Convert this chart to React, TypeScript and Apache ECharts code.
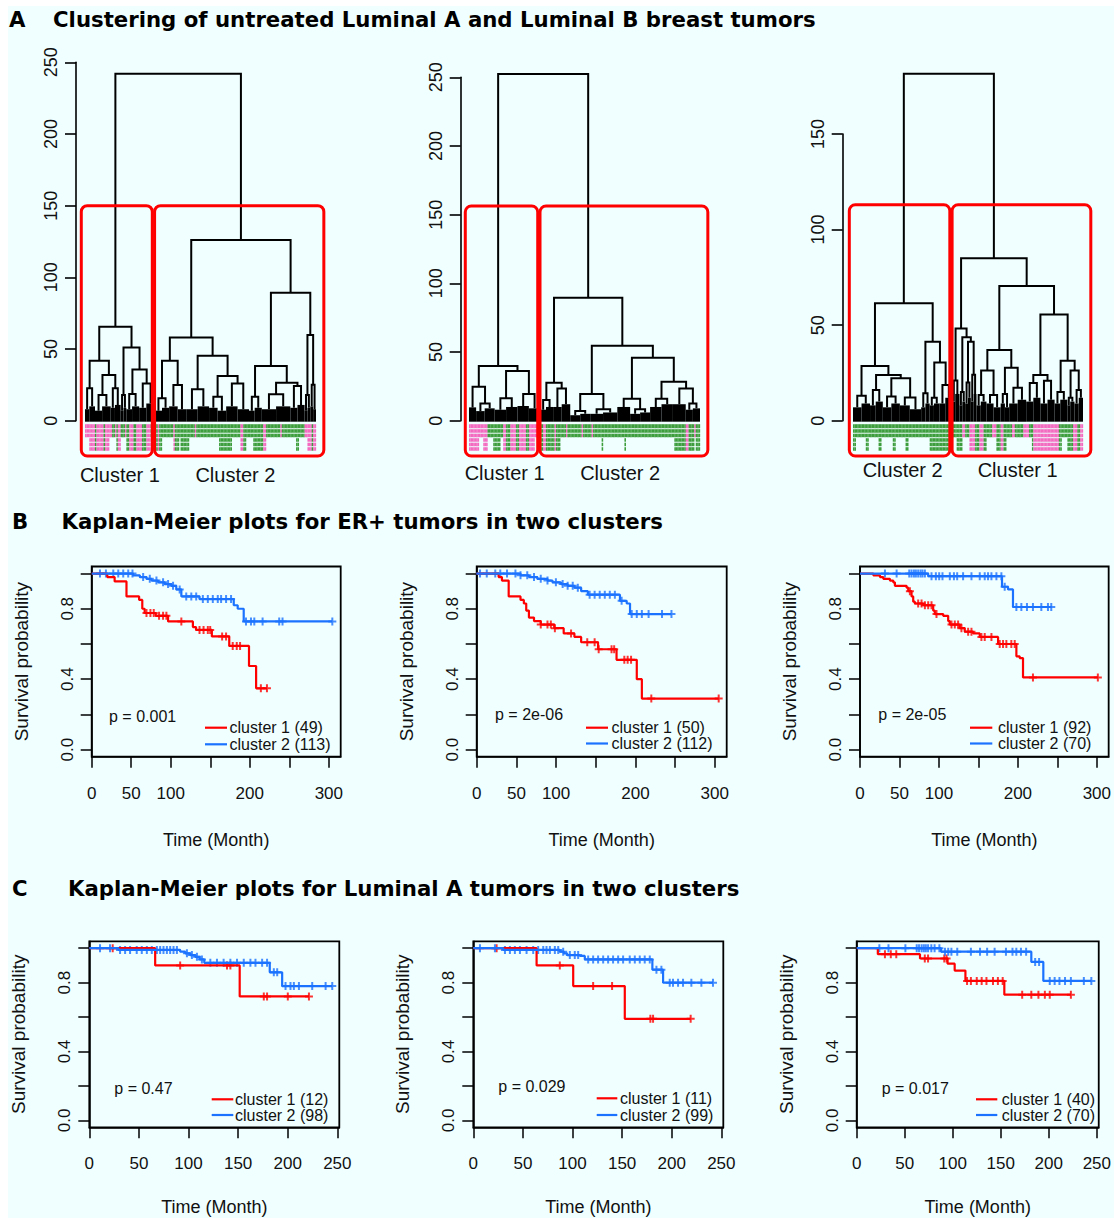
import React, { useEffect, useRef } from "react";
import * as echarts from "echarts";

// ---------------- Dendrogram data ----------------
// internal node = [mergeHeight, left, right]; terminal clump = [leafCount, height]
const treeA1: any[] = [242,
  [65.6,
    [41.9,
      [22.6, [3, 8], [4, 10]],
      [31.9, [18, [5, 7], [6, 10]], [22.6, [3, 9], [4, 11]]]],
    [51,
      [18, [2, 7], [2, 9]],
      [35.8, [18.6, [4, 8], [5, 10]], [26, [5, 9], [6, 12]]]]],
  [126,
    [58,
      [41.9, [15.6, [5, 7], [5, 9]], [24.9, [6, 10], [6, 8]]],
      [45.3,
        [21.9, [8, 8], [8, 10]],
        [31.2, [16.7, [6, 9], [6, 7]], [26, [8, 10], [8, 8]]]]],
    [89.3,
      [38.1,
        [16.7, [4, 7], [5, 9]],
        [26.5, [18.4, [10, 8], [10, 10]], [24.2, [5, 9], [5, 11]]]],
      [59.8, [18, [2, 7], [2, 9]], [25, [2, 10], [2, 8]]]]]];

const treeA2: any[] = [252.4,
  [39.8,
    [24.8, [5, 9.7], [12.6, [6, 7], [7, 9]]],
    [36.2, [16.3, [8, 8], [8, 10]], [19.4, [8, 10.7], [8, 9]]]],
  [89.6,
    [27.7, [15, [4, 8], [5, 10]], [23.5, [6, 10], [6, 12]]],
    [54.6,
      [19.4, [7, [7, 4], [7, 5]], [8.3, [9, 5], [10, 6]]],
      [45.9,
        [16, [9, 10], [8.3, [7, 5], [7, 6]]],
        [28.4, [16, [8, 10], [8, 12]], [23.5, [9, 12], [12.6, [5, 8], [5, 9]]]]]]]];

const treeA3: any[] = [181.5,
  [61.4,
    [28.6,
      [13.1, [6, 7], [6, 9]],
      [23.9, [16, [4, 8], [5, 10]], [22.2, [12.6, [6, 7], [6, 9]], [12.2, [7, 8], [8, 6]]]]],
    [41.3,
      [14.3, [3, 7], [3, 9]],
      [30.4, [12, [3, 8], [4, 9]], [18.7, [4, 9], [5, 12]]]]],
  [85,
    [48.3,
      [21, [2, 10], [3, 14]],
      [43.6, [15, [2, 8], [2, 10]], [41.3, [20, [2, 9], [2, 12]], [24, [2, 10], [2, 14]]]]],
    [70.5,
      [37,
        [26.2, [13.4, [3, 8], [4, 10]], [13.4, [5, 9], [5, 7]]],
        [27.7, [14, [3, 9], [3, 7]], [17.3, [6, 9], [6, 11]]]],
      [55.6,
        [23.9, [19.7, [5, 10], [5, 12]], [20.9, [5, 9], [5, 11]]],
        [31.4, [15, [4, 9], [5, 11]], [26.2, [12, [2, 8], [3, 10]], [16, [3, 9], [3, 12]]]]]]]];

// sample label colour strip, run-length: P/p = pink, G/g = green; upper case = long label
const stripA1 = ["p3", "P4", "G1", "P5", "G1", "P3", "p2", "g2", "p1", "G1", "P2", "g3", "p1", "G2", "P3", "G2", "P4", "G3", "P3", "g1", "p2",
  "G2", "P1", "G2", "g8", "P1", "G3", "g1", "G6", "g4", "p1", "g16", "G9", "g6", "P2", "G2", "g5", "G7", "P2", "g10", "p1", "g10", "G2", "g4", "p2", "P3", "G1", "P2"];
const stripA2 = ["P7", "p3", "P3", "g4", "G5", "g2", "P2", "G3", "P4", "G2", "P5", "G2", "P4", "p4",
  "G2", "P2", "G6", "P1", "G3", "g4", "p1", "g10", "p1", "g6", "p1", "g6", "G1", "g15", "G1", "g23", "g11", "G8", "P2", "G4", "p1", "G3"];
const stripA3 = ["G2", "g7", "G2", "g7", "G2", "g8", "G2", "g7", "G2", "g15", "G16",
  "g3", "G4", "p2", "g3", "P4", "G3", "P3", "G2", "g4", "p3", "G3", "P2", "G2", "g4", "p2", "g3", "g3", "p4", "g2", "G1", "P6", "P8", "P4", "G2", "g4", "G4", "P3", "G2", "P2"];

const clusterSizesA1 = [49, 113];
const clusterSizesA2 = [50, 112];
const clusterSizesA3 = [70, 92];
const clusterLabelsA1 = ["Cluster 1", "Cluster 2"];
const clusterLabelsA2 = ["Cluster 1", "Cluster 2"];
const clusterLabelsA3 = ["Cluster 2", "Cluster 1"];
const cutA1 = 150;
const cutA2 = 156.3;
const cutA3 = 113;

// ---------------- Kaplan-Meier data ----------------
// events: [time, survival after event]; censor: times; end: last follow-up
const b1C1Events = [[19.7, 0.98], [29, 0.955], [44, 0.87], [60, 0.85], [64, 0.8], [67, 0.776], [81, 0.76], [96.6, 0.728], [128, 0.696], [132, 0.68], [152, 0.643], [174, 0.589], [199, 0.475], [208, 0.348]];
const b1C1Censor = [69.3, 74.3, 78.5, 85.2, 90.3, 94.5, 113.4, 136.4, 141.5, 146.9, 149.9, 165, 170, 178.4, 183.5, 187.7, 214, 221.7];
const b1C1End = 221.7;
const b1C2Events = [[52.5, 0.99], [60.9, 0.98], [69.3, 0.97], [75.6, 0.96], [84, 0.95], [92.4, 0.94], [100.8, 0.93], [107, 0.91], [113.4, 0.87], [136.4, 0.855], [179.7, 0.82], [184.7, 0.8], [192.3, 0.728]];
const b1C2Censor = [10.5, 18, 27.3, 33.6, 39.9, 46.2, 51.6, 65.1, 73.5, 81.9, 90.3, 96.6, 102.9, 111.3, 119.6, 126, 132.2, 140.6, 146.9, 153.2, 159.5, 163.7, 170, 176.3, 195.2, 201.5, 205.7, 216.2, 237.2, 241.4, 304.4];
const b1C2End = 304.4;

const b2C1Events = [[27.6, 0.98], [31.8, 0.96], [40.3, 0.87], [55.2, 0.85], [59.4, 0.83], [62.4, 0.79], [65.8, 0.75], [72.2, 0.73], [80.7, 0.71], [97.7, 0.69], [109.6, 0.66], [123.1, 0.64], [131.6, 0.61], [152.9, 0.57], [176.2, 0.51], [201.7, 0.4], [208.1, 0.29]];
const b2C1Censor = [80.7, 89.2, 93.4, 98.5, 118.9, 139.3, 148.6, 153.7, 169.9, 173.2, 186, 190.2, 194.5, 220, 304.9];
const b2C1End = 304.9;
const b2C2Events = [[55.2, 0.99], [65.8, 0.98], [76.4, 0.97], [89.2, 0.96], [95.5, 0.95], [106.2, 0.94], [114.6, 0.93], [123.1, 0.92], [131.6, 0.9], [140.1, 0.88], [180.5, 0.845], [189, 0.83], [193.2, 0.77]];
const b2C2Censor = [4.2, 12.7, 23.4, 29.7, 38.2, 48.8, 55.2, 63.7, 72.2, 80.7, 89.2, 99.8, 108.3, 114.6, 121, 127.4, 142.3, 148.6, 155, 161.4, 167.7, 174.1, 182.6, 195.3, 201.7, 208.1, 216.6, 233.5, 245.4];
const b2C2End = 245.4;

const b3C1Events = [[16.9, 0.99], [25.3, 0.98], [29.5, 0.97], [37.9, 0.96], [42.1, 0.95], [44.2, 0.93], [59, 0.92], [61.1, 0.9], [65.3, 0.87], [67.4, 0.84], [69.5, 0.83], [80.1, 0.82], [92.7, 0.79], [94.8, 0.77], [105.4, 0.76], [111.7, 0.73], [113.8, 0.71], [126.4, 0.69], [132.7, 0.67], [143.3, 0.66], [151.7, 0.64], [174.9, 0.6], [198.1, 0.53], [202.3, 0.52], [206.5, 0.41]];
const b3C1Censor = [63.2, 73.7, 78, 82.2, 86.4, 90.6, 96.9, 115.9, 120.1, 124.3, 128.5, 137, 141.2, 153.8, 158, 166.5, 177, 181.2, 185.4, 191.7, 196, 219.1, 301.3];
const b3C1End = 301.3;
const b3C2Events = [[86.4, 0.985], [179.9, 0.925], [187.5, 0.91], [193.8, 0.81]];
const b3C2Censor = [31.6, 46.4, 62.4, 65.3, 68.3, 70.8, 73.7, 76.7, 79.2, 82.2, 90.6, 96.1, 100.3, 104.5, 113.8, 119, 123.1, 130.6, 141.2, 151.7, 158, 162.2, 166.5, 172.8, 179.1, 183.3, 198.1, 204.4, 211.5, 219.1, 229.7, 238.1, 242.3];
const b3C2End = 242.3;

const c1C1Events = [[66.4, 0.9], [151.6, 0.72]];
const c1C1Censor = [23.6, 91.6, 138.8, 142.2, 175.9, 179.2, 200.1, 221.4];
const c1C1End = 221.4;
const c1C2Events = [[29.3, 0.99], [91.6, 0.98], [96.7, 0.97], [101.8, 0.96], [106.8, 0.95], [111.2, 0.935], [115.9, 0.915], [181.9, 0.86], [194.4, 0.78]];
const c1C2Censor = [10.8, 20.9, 31, 36.1, 41.1, 47.8, 52.9, 58, 63, 68.1, 71.4, 74.8, 78.2, 81.5, 84.9, 88.3, 98.4, 103.4, 108.5, 113.5, 122, 128.7, 135.4, 142.2, 148.9, 155.7, 162.4, 167.5, 174.2, 179.2, 186, 189.4, 197.8, 202.8, 206.2, 211.3, 224.7, 238.2, 244.9];
const c1C2End = 244.9;

const c2C1Events = [[63.8, 0.9], [100.7, 0.78], [152.7, 0.59]];
const c2C1Censor = [23.5, 87.2, 120.8, 139.9, 178.5, 181.2, 219.1];
const c2C1End = 219.1;
const c2C2Events = [[30.2, 0.99], [87.2, 0.98], [91.3, 0.97], [94.6, 0.96], [107.4, 0.955], [112.4, 0.935], [180.5, 0.875], [191.3, 0.8]];
const c2C2Censor = [6.7, 21.8, 31.9, 36.9, 41.9, 47, 53.7, 60.4, 65.4, 70.5, 73.8, 77.2, 82.2, 85.6, 90.6, 97.3, 102.3, 105.7, 115.8, 120.8, 125.8, 130.9, 135.9, 140.9, 146, 151, 157.7, 162.8, 167.8, 172.8, 177.9, 184.6, 189.6, 198, 201.3, 206.4, 211.4, 219.8, 229.9, 241.6];
const c2C2End = 241.6;

const c3C1Events = [[22, 0.965], [65.9, 0.94], [94.6, 0.91], [102, 0.87], [113.2, 0.81], [153.7, 0.73]];
const c3C1Censor = [29.4, 35.5, 41.2, 70.9, 74.3, 91.2, 93.6, 114.9, 118.9, 125, 130.1, 135.1, 141.9, 147, 152, 172.3, 181.8, 189.2, 195.9, 201, 223];
const c3C1End = 223;
const c3C2Events = [[87.8, 0.98], [181.8, 0.92], [194.3, 0.81]];
const c3C2Censor = [23.6, 33.1, 50.7, 62.5, 64.9, 67.6, 69.9, 72, 74.3, 77.7, 81.1, 86.1, 91.9, 95.3, 98.6, 104.7, 118.9, 128.4, 135.8, 143.6, 155.4, 162.2, 166.2, 171, 176.4, 185.8, 189.9, 201, 206.1, 211.1, 216.9, 223, 236.5, 244.3];
const c3C2End = 244.3;

const pValues = ["p = 0.001", "p = 2e-06", "p = 2e-05", "p = 0.47", "p = 0.029", "p = 0.017"];
const legendLabels = [
  ["cluster 1 (49)", "cluster 2 (113)"],
  ["cluster 1 (50)", "cluster 2 (112)"],
  ["cluster 1 (92)", "cluster 2 (70)"],
  ["cluster 1 (12)", "cluster 2 (98)"],
  ["cluster 1 (11)", "cluster 2 (99)"],
  ["cluster 1 (40)", "cluster 2 (70)"],
];
const erTickValues = [0, 50, 100, 150, 200, 250, 300];
const erLabelValues = [0, 50, 100, 200, 300];
const lumTickValues = [0, 50, 100, 150, 200, 250];
const lumLabelValues = [0, 50, 100, 150, 200, 250];
const survTickValues = [0, 0.2, 0.4, 0.6, 0.8, 1];
const survLabelValues = [0, 0.4, 0.8];
const dendroTickStep = 50;

const titles = [
  { letter: "A", text: "Clustering of untreated Luminal A and Luminal B breast tumors" },
  { letter: "B", text: "Kaplan-Meier plots for ER+ tumors in two clusters" },
  { letter: "C", text: "Kaplan-Meier plots for Luminal A tumors in two clusters" },
];

// ---------------- styling / layout ----------------
const FONT = '"Liberation Sans", Arial, Helvetica, sans-serif';
const TITLE_FONT = '"DejaVu Sans", Verdana, sans-serif';
const RED = "#ff0000";
const BLUE = "#1a72ff";
const PINK = "#f36ac0";
const GREEN = "#3e9e3e";
const BG = "#f0ffff";

const dendroLayout = [
  { grid: [85, 62.3, 231, 358.4], offset: 9, ymax: 250, labelDy: 54 },
  { grid: [469, 77.3, 231, 343.4], offset: 8.3, ymax: 250, labelDy: 52 },
  { grid: [853, 134, 230, 286.7], offset: 10.3, ymax: 150, labelDy: 49.5 },
];
const kmLayout = [
  { grid: [91.7, 566.5, 249, 190.2], xmax: 315, p: [109, 716], leg: [205, 227, 229.5, 727.7, 744.3] },
  { grid: [476.7, 566.5, 250, 190.2], xmax: 315, p: [495, 714.3], leg: [586, 608, 611.5, 727.7, 743.5] },
  { grid: [860, 566.5, 249.3, 190.2], xmax: 315, p: [878.3, 714.3], leg: [970, 992.3, 998, 727.7, 743.5] },
  { grid: [89.3, 941.3, 250, 186], xmax: 252, p: [114.3, 1088.3], leg: [211.7, 233.3, 235, 1099.3, 1115] },
  { grid: [473.3, 941.3, 250, 186], xmax: 252, p: [498.3, 1086.7], leg: [596.7, 617.3, 620, 1098.3, 1115] },
  { grid: [856.7, 941.3, 250, 186], xmax: 252, p: [881.7, 1088.3], leg: [976, 997.3, 1001.7, 1099.3, 1115] },
];
const titleLayout = [
  { lx: 9, tx: 53, y: 19 },
  { lx: 12, tx: 61.5, y: 521.5 },
  { lx: 12, tx: 68, y: 888 },
];

const kmData = [
  [[b1C1Events, b1C1Censor, b1C1End], [b1C2Events, b1C2Censor, b1C2End]],
  [[b2C1Events, b2C1Censor, b2C1End], [b2C2Events, b2C2Censor, b2C2End]],
  [[b3C1Events, b3C1Censor, b3C1End], [b3C2Events, b3C2Censor, b3C2End]],
  [[c1C1Events, c1C1Censor, c1C1End], [c1C2Events, c1C2Censor, c1C2End]],
  [[c2C1Events, c2C1Censor, c2C1End], [c2C2Events, c2C2Censor, c2C2End]],
  [[c3C1Events, c3C1Censor, c3C1End], [c3C2Events, c3C2Censor, c3C2End]],
];
const dendroData = [
  { tree: treeA1, strip: stripA1, sizes: clusterSizesA1, labels: clusterLabelsA1, cut: cutA1 },
  { tree: treeA2, strip: stripA2, sizes: clusterSizesA2, labels: clusterLabelsA2, cut: cutA2 },
  { tree: treeA3, strip: stripA3, sizes: clusterSizesA3, labels: clusterLabelsA3, cut: cutA3 },
];

function buildDendroItems(tree: any[], strip: string[], sizes: number[], cut: number) {
  const items: number[][] = [];
  const boxes: number[][] = [];
  function lay(node: any[], start: number): { x: number; h: number; n: number } {
    if (node.length === 2) {
      const [n, h] = node;
      items.push([1, start, 0, start + n, h, 0]);
      return { x: start + n / 2, h, n };
    }
    const [h, L, R] = node;
    const l = lay(L, start);
    const r = lay(R, start + l.n);
    items.push([0, l.x, l.h, r.x, r.h, h]);
    return { x: (l.x + r.x) / 2, h, n: l.n + r.n };
  }
  const root = lay(tree, 0);
  const stripItems: number[][] = [];
  let i = 0;
  strip.forEach((tok) => {
    const c = tok[0];
    const cnt = parseInt(tok.slice(1), 10);
    for (let k = 0; k < cnt; k++) {
      stripItems.push([2, i, c.toLowerCase() === "p" ? 0 : 1, c === c.toUpperCase() ? 1 : 0, 0, 0]);
      i++;
    }
  });
  let s = 0;
  sizes.forEach((n, j) => {
    const x0 = s + (j === 0 ? -2.6 : -0.2);
    const x1 = s + n + (j === sizes.length - 1 ? 5.5 : -1.8);
    boxes.push([3, x0, cut, x1, 0, 0]);
    boxes.push([4, s + n / 2, 0, j, 0, 0]);
    s += n;
  });
  return { items: [...stripItems, ...items, ...boxes], N: root.n };
}

function survAt(events: number[][], t: number) {
  let s = 1;
  for (const e of events) if (e[0] <= t) s = e[1];
  return s;
}

const plusSymbol = "path://M3,0H5V3H8V5H5V8H3V5H0V3H3Z";

function buildOption() {
  const grid: any[] = [];
  const xAxis: any[] = [];
  const yAxis: any[] = [];
  const series: any[] = [];
  const graphic: any[] = [];

  graphic.push({ type: "rect", z: -100, silent: true, shape: { x: 8, y: 6, width: 1106, height: 1212 }, style: { fill: BG } });

  titles.forEach((t, i) => {
    const L = titleLayout[i];
    graphic.push({ type: "text", silent: true, style: { text: t.letter, x: L.lx, y: L.y, font: `bold 21.25px ${TITLE_FONT}`, fill: "#000", verticalAlign: "middle", textVerticalAlign: "middle" } });
    graphic.push({ type: "text", silent: true, style: { text: t.text, x: L.tx, y: L.y, font: `bold 21.25px ${TITLE_FONT}`, fill: "#000", verticalAlign: "middle", textVerticalAlign: "middle" } });
  });

  dendroData.forEach((d, idx) => {
    const L = dendroLayout[idx];
    const gi = grid.length;
    const { items, N } = buildDendroItems(d.tree, d.strip, d.sizes, d.cut);
    grid.push({ left: L.grid[0], top: L.grid[1], width: L.grid[2], height: L.grid[3], show: false });
    xAxis.push({ gridIndex: gi, type: "value", min: 0, max: N, show: false, axisLine: { onZero: false } });
    yAxis.push({
      gridIndex: gi, type: "value", min: 0, max: L.ymax, interval: dendroTickStep, offset: L.offset,
      axisLine: { show: true, onZero: false, lineStyle: { color: "#000", width: 1.6 } },
      axisTick: { show: true, length: 11, lineStyle: { color: "#000", width: 1.6 } },
      axisLabel: { rotate: 90, margin: 16, fontSize: 18, color: "#111", fontFamily: FONT },
      splitLine: { show: false },
    });
    const labels = d.labels;
    const labelDy = L.labelDy;
    series.push({
      type: "custom", xAxisIndex: gi, yAxisIndex: gi, clip: false, silent: true,
      data: items,
      renderItem: (params: any, api: any) => {
        const k = api.value(0);
        const a = api.value(1), b = api.value(2), c = api.value(3), dd = api.value(4), e = api.value(5);
        if (k === 0) {
          const p1 = api.coord([a, b]), p2 = api.coord([a, e]), p3 = api.coord([c, e]), p4 = api.coord([c, dd]);
          return { type: "polyline", shape: { points: [p1, p2, p3, p4] }, style: { stroke: "#000", fill: "none", lineWidth: 2, lineJoin: "miter" } };
        }
        if (k === 1) {
          const p1 = api.coord([a, dd]), p2 = api.coord([c, 0]);
          return { type: "rect", shape: { x: p1[0], y: p1[1], width: p2[0] - p1[0], height: p2[1] - p1[1] + 1 }, style: { fill: "#000" } };
        }
        if (k === 2) {
          const p0 = api.coord([a, 0]), p1 = api.coord([a + 1, 0]);
          const rows = c ? [[3.5, 7.5], [8.5, 12], [13, 16.5], [17.5, 21], [22, 25.5], [26.5, 30]] : [[3.5, 7.5], [8.5, 12], [13, 16.5]];
          const fill = b === 0 ? PINK : GREEN;
          return {
            type: "group",
            children: rows.map((r) => ({ type: "rect", shape: { x: p0[0], y: p0[1] + r[0], width: p1[0] - p0[0] + 0.15, height: r[1] - r[0] }, style: { fill } })),
          };
        }
        if (k === 3) {
          const p0 = api.coord([a, b]), p1 = api.coord([c, 0]);
          return { type: "rect", z2: 10, shape: { x: p0[0], y: p0[1], width: p1[0] - p0[0], height: p1[1] + 35.3 - p0[1], r: 6 }, style: { fill: "none", stroke: RED, lineWidth: 3 } };
        }
        const p = api.coord([a, 0]);
        return { type: "text", style: { text: labels[c], x: p[0], y: p[1] + labelDy, font: `20px ${FONT}`, fill: "#111", align: "center", textAlign: "center", verticalAlign: "middle", textVerticalAlign: "middle" } };
      },
    });
  });

  kmData.forEach((curves, idx) => {
    const L = kmLayout[idx];
    const isEr = idx < 3;
    const gi = grid.length;
    grid.push({ left: L.grid[0], top: L.grid[1], width: L.grid[2], height: L.grid[3], show: true, borderColor: "#000", borderWidth: 1.8, backgroundColor: "transparent" });
    xAxis.push({
      gridIndex: gi, type: "value", min: 0, max: L.xmax,
      axisLine: { show: true, onZero: false, lineStyle: { color: "#000", width: 1.5 } },
      axisTick: { show: true, length: 11, lineStyle: { color: "#000", width: 1.5 }, customValues: isEr ? erTickValues : lumTickValues },
      axisLabel: { customValues: isEr ? erLabelValues : lumLabelValues, margin: 28, fontSize: 17, color: "#111", fontFamily: FONT },
      splitLine: { show: false },
      name: "Time (Month)", nameLocation: "middle", nameGap: isEr ? 74 : 71,
      nameTextStyle: { fontSize: 18, color: "#111", fontFamily: FONT },
    });
    yAxis.push({
      gridIndex: gi, type: "value", min: -0.04, max: 1.04,
      axisLine: { show: true, onZero: false, lineStyle: { color: "#000", width: 1.5 } },
      axisTick: { show: true, length: 11, lineStyle: { color: "#000", width: 1.5 }, customValues: survTickValues },
      axisLabel: { customValues: survLabelValues, formatter: (v: number) => v.toFixed(1), rotate: 90, margin: 16, fontSize: 17, color: "#111", fontFamily: FONT },
      splitLine: { show: false },
      name: "Survival probability", nameLocation: "middle", nameRotate: 90, nameGap: 61,
      nameTextStyle: { fontSize: 19, color: "#111", fontFamily: FONT },
    });
    curves.forEach((cv: any, ci: number) => {
      const [events, censor, end] = cv;
      const color = ci === 0 ? RED : BLUE;
      const last = events[events.length - 1][1];
      series.push({
        type: "line", xAxisIndex: gi, yAxisIndex: gi, step: "end", showSymbol: false, symbol: "none", silent: true,
        data: [[0, 1], ...events, [end, last]],
        lineStyle: { color, width: 2.2 }, itemStyle: { color },
      });
      series.push({
        type: "scatter", xAxisIndex: gi, yAxisIndex: gi, silent: true,
        data: censor.map((t: number) => [t, survAt(events, t)]),
        symbol: plusSymbol, symbolSize: 8, itemStyle: { color },
      });
    });
    graphic.push({ type: "text", silent: true, style: { text: pValues[idx], x: L.p[0], y: L.p[1], font: `16px ${FONT}`, fill: "#111", verticalAlign: "middle", textVerticalAlign: "middle" } });
    const [x0, x1, tx, y1, y2] = L.leg;
    [y1, y2].forEach((yy, j) => {
      graphic.push({ type: "line", silent: true, shape: { x1: x0, y1: yy, x2: x1, y2: yy }, style: { stroke: j === 0 ? RED : BLUE, lineWidth: 2.2 } });
      graphic.push({ type: "text", silent: true, style: { text: legendLabels[idx][j], x: tx, y: yy, font: `16px ${FONT}`, fill: "#111", verticalAlign: "middle", textVerticalAlign: "middle" } });
    });
  });

  return {
    animation: false,
    backgroundColor: "#ffffff",
    textStyle: { fontFamily: FONT },
    grid, xAxis, yAxis, series, graphic,
  };
}

export default function App() {
  const ref = useRef<HTMLDivElement>(null);
  useEffect(() => {
    const chart = echarts.init(ref.current as HTMLDivElement, null, { renderer: "svg" });
    chart.setOption(buildOption() as any);
    return () => chart.dispose();
  }, []);
  return <div ref={ref} style={{ position: "absolute", left: 0, top: 0, width: 1114, height: 1218 }} />;
}
